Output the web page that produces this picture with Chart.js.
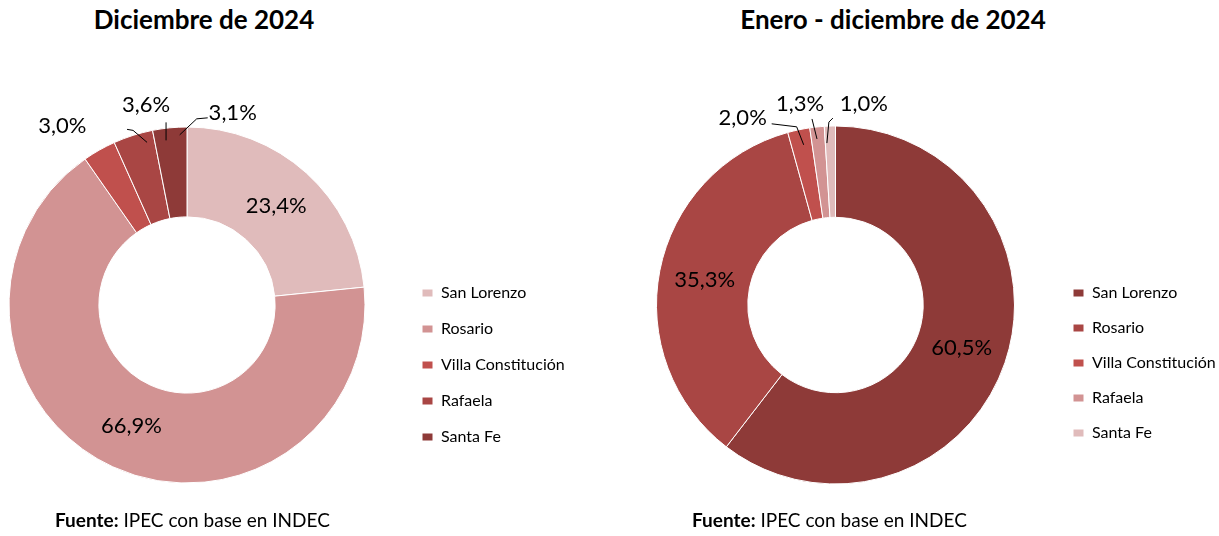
<!DOCTYPE html>
<html>
<head>
<meta charset="utf-8">
<script src="https://cdn.jsdelivr.net/npm/chart.js@4"></script>
<style>
  html, body { margin: 0; padding: 0; background: #fff; overflow: hidden; }
  body { width: 1219px; height: 536px; position: relative; font-family: Lato, sans-serif; color: #000; }
  canvas { position: absolute; top: 0; }
  .titulo { position: absolute; top: 3px; font-weight: bold; font-size: 26px; transform: translateX(-50%); white-space: nowrap; }
  .fuente { position: absolute; top: 508px; font-size: 19px; white-space: nowrap; }
</style>
</head>
<body>
<div class="titulo" style="left:204px">Diciembre de 2024</div>
<div class="titulo" style="left:893px">Enero - diciembre de 2024</div>
<canvas id="chart_dic" width="605" height="536" style="left:-28px"></canvas>
<canvas id="chart_anual" width="602" height="536" style="left:617px"></canvas>
<div class="fuente" style="left:55px"><b>Fuente:</b> IPEC con base en INDEC</div>
<div class="fuente" style="left:692px"><b>Fuente:</b> IPEC con base en INDEC</div>

<script>
// datos (%)
const categorias_dic = ['San Lorenzo', 'Rosario', 'Villa Constitución', 'Rafaela', 'Santa Fe'];
const valores_dic = [23.4, 66.9, 3.0, 3.6, 3.1];
const colores_dic = ['#E0BBBB', '#D29393', '#C0504D', '#A94644', '#8E3A38'];

const categorias_anual = ['San Lorenzo', 'Rosario', 'Villa Constitución', 'Rafaela', 'Santa Fe'];
const valores_anual = [60.5, 35.3, 2.0, 1.3, 1.0];
const colores_anual = ['#8E3A38', '#A94644', '#C0504D', '#D29393', '#E0BBBB'];

// etiquetas fuera del anillo: desplazamiento respecto del borde exterior de cada porcion
const fuera_dic = {
    2: {texto: [-37, -24], lineas: []},
    3: {texto: [13, -30], lineas: [[[-6, -6], [0, -5], [14, 7]], [[33, -13], [33, 5]]]},
    4: {texto: [63, -15], lineas: [[[10, 7], [27, -9], [38, -10]]]}
};
const fuera_anual = {
    2: {texto: [-56, -12], lineas: [[[-27, -6], [-2, -3], [5, 15]]]},
    3: {texto: [-17, -23], lineas: [[[-5, -8], [0, 12]]]},
    4: {texto: [34, -22], lineas: [[[3, -8], [-1, -4], [-3, 17]]]}
};

const etiquetasPlugin = {
    id: 'etiquetas',
    afterDatasetsDraw(chart, args, opts){
        const ctx = chart.ctx;
        const meta = chart.getDatasetMeta(0);
        const valores = chart.data.datasets[0].data;
        ctx.save();
        ctx.font = '22px Lato';
        ctx.fillStyle = '#000';
        ctx.strokeStyle = '#000';
        ctx.lineWidth = 1;
        ctx.textAlign = 'center';
        ctx.textBaseline = 'middle';
        meta.data.forEach(function(arc, i){
            const p = arc.getProps(['x', 'y', 'startAngle', 'endAngle', 'innerRadius', 'outerRadius'], true);
            const mid = (p.startAngle + p.endAngle) / 2;
            const texto = valores[i].toFixed(1).replace('.', ',') + '%';
            const f = opts.fuera[i];
            if(!f){
                const r = (p.innerRadius + p.outerRadius) / 2;
                ctx.fillText(texto, p.x + Math.cos(mid) * r, p.y + Math.sin(mid) * r);
            } else {
                const ax = p.x + Math.cos(mid) * p.outerRadius;
                const ay = p.y + Math.sin(mid) * p.outerRadius;
                ctx.fillText(texto, ax + f.texto[0], ay + f.texto[1]);
                f.lineas.forEach(function(l){
                    ctx.beginPath();
                    l.forEach(function(pt, k){
                        if(k == 0) ctx.moveTo(ax + pt[0], ay + pt[1]);
                        else ctx.lineTo(ax + pt[0], ay + pt[1]);
                    });
                    ctx.stroke();
                });
            }
        });
        ctx.restore();
    }
};

function initDonut(id, labels, values, colors, radius, cutout, padding, legendPadding, fuera){
    const ctx = document.getElementById(id).getContext('2d');
    return new Chart(ctx, {
        type: 'doughnut',
        data: {
            labels: labels,
            datasets: [{
                data: values,
                backgroundColor: colors,
                borderColor: '#ffffff',
                borderWidth: 1,
                hoverOffset: 0,
                clip: false
            }]
        },
        options: {
            responsive: false,
            devicePixelRatio: 1,
            animation: false,
            radius: radius,
            cutout: cutout,
            layout: { padding: padding },
            plugins: {
                legend: {
                    position: 'right',
                    align: 'end',
                    maxWidth: 165,
                    labels: {
                        boxWidth: 11,
                        boxHeight: 8,
                        padding: legendPadding,
                        color: '#000',
                        font: { family: 'Lato', size: 16 }
                    }
                },
                tooltip: { enabled: false },
                etiquetas: { fuera: fuera }
            }
        },
        plugins: [etiquetasPlugin]
    });
}

initDonut('chart_dic', categorias_dic, valores_dic, colores_dic, 178, '49.5%',
    {top: 145, bottom: 71, left: 0, right: 10}, 20, fuera_dic);
initDonut('chart_anual', categorias_anual, valores_anual, colores_anual, 179, '49%',
    {top: 150, bottom: 76, left: 0, right: 0}, 19, fuera_anual);
</script>
</body>
</html>
